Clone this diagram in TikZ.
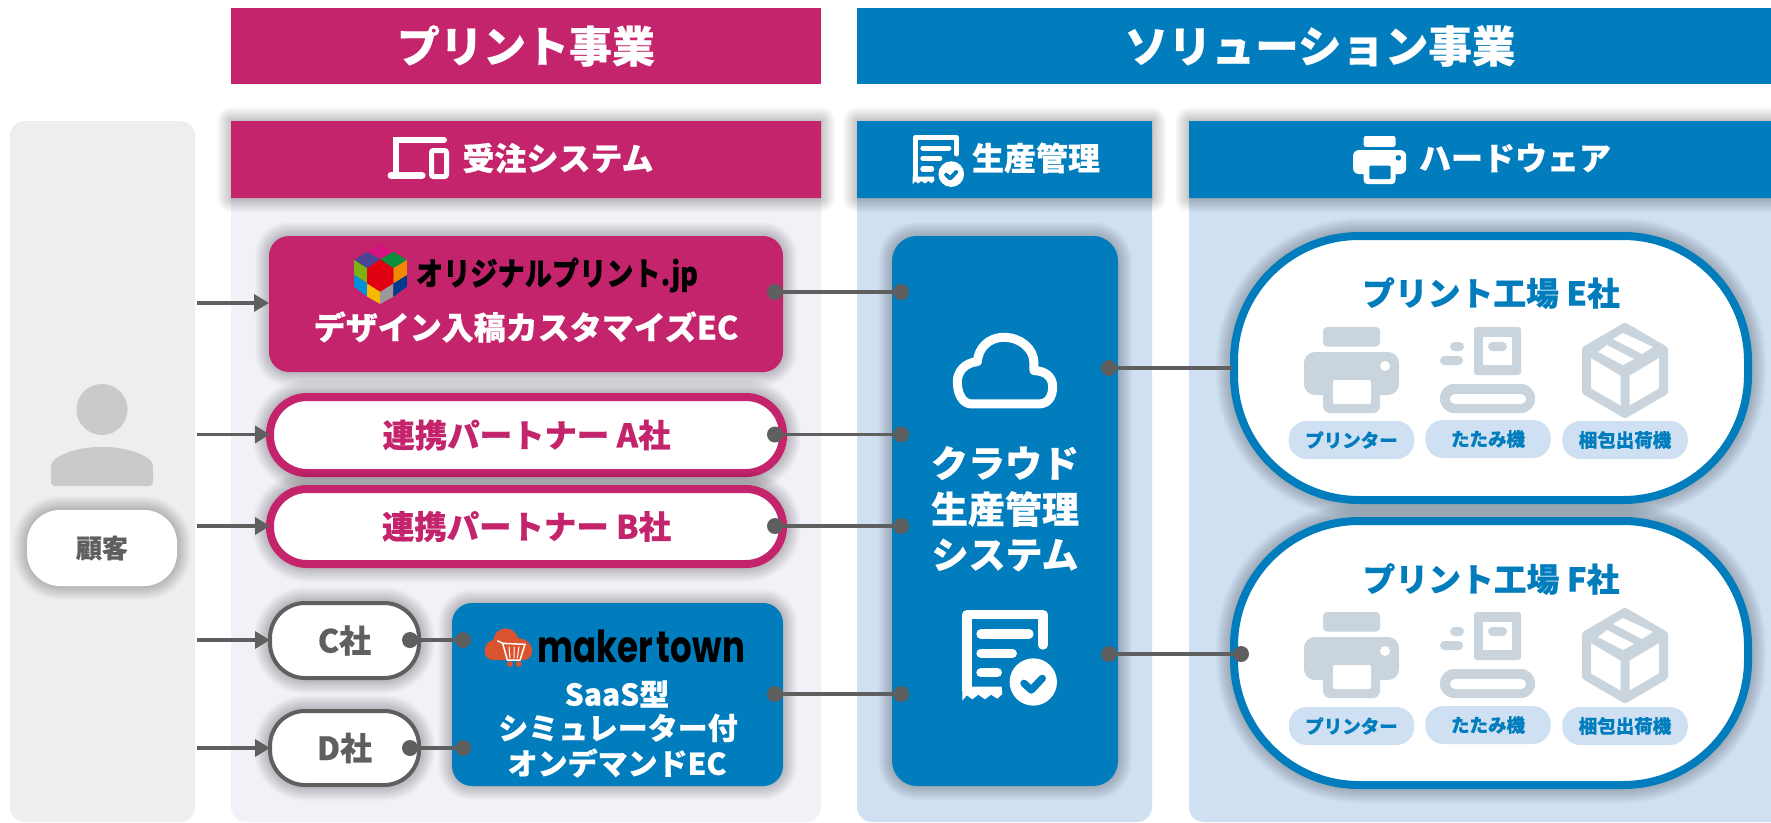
\documentclass[tikz,border=0pt]{standalone}
\usepackage{fontspec}
\usepackage{graphicx}
\newfontfamily\jp{Noto Sans CJK JP Black}[FakeBold=0.5]
\newfontfamily\mk{Poppins}
\usetikzlibrary{arrows.meta}
\definecolor{pinkc}{HTML}{C3246C}
\definecolor{bluec}{HTML}{017CBC}
\definecolor{panelp}{HTML}{F2F1F7}
\definecolor{panelb}{HTML}{CEE0F2}
\definecolor{panelg}{HTML}{EEEEEE}
\definecolor{linec}{HTML}{5F5F5F}
\definecolor{iconc}{HTML}{C9D4DC}
\definecolor{persc}{HTML}{CACACA}
\definecolor{cubem}{HTML}{D5127F}
\definecolor{cubep}{HTML}{4A4595}
\definecolor{cubeg}{HTML}{0A8F3C}
\definecolor{cubeo}{HTML}{7DB012}
\definecolor{cubec}{HTML}{0090DA}
\definecolor{cubey}{HTML}{F9B800}
\definecolor{cubea}{HTML}{999999}
\definecolor{cuben}{HTML}{003A8C}
\definecolor{cubeh}{HTML}{F08A00}
\definecolor{cuber}{HTML}{E0000F}
\definecolor{mkorange}{HTML}{D9532F}
\newcommand{\fs}[1]{\fontsize{#1}{#1}\selectfont}
\newcommand{\softshadow}[5]{%
  \foreach \k in {1,...,14}{%
    \fill[black,opacity=.017,rounded corners=#5pt+\k pt] ({#1-\k},{#2-\k}) rectangle ({#3+\k},{#4+\k});}}
\newcommand{\boxnode}[9]{% name x1 y1 x2 y2 r pad style text
  \pgfmathsetmacro{\bw}{#4-#2}\pgfmathsetmacro{\bh}{#5-#3}%
  \softshadow{#2-#7}{#3-#7}{#4+#7}{#5+#7}{#6+#7}%
  \node[#8,minimum width=\bw pt,minimum height=\bh pt,rounded corners=#6pt] (#1) at ({(#2+#4)/2},{(#3+#5)/2}) {#9};}
\newcommand{\printericon}[5]{% x y scale fg bg
  \begin{scope}[shift={(#1,#2)},scale=#3]
    \fill[#4,rounded corners=#3*4pt] (19,0) rectangle (76,19.5);
    \fill[#4,rounded corners=#3*11pt] (0,25) rectangle (95,68);
    \fill[#4,rounded corners=#3*7pt] (19,50) rectangle (76,86);
    \fill[#5,rounded corners=#3*2pt] (29,53) rectangle (67,77);
    \fill[#5] (81,39) circle (5);
  \end{scope}}
\newcommand{\folder}[2]{%
  \begin{scope}[shift={(#1,#2)}]
    \fill[iconc,rounded corners=3pt] (34,0) rectangle (81,48);
    \fill[white] (43,10) rectangle (72,38);
    \fill[iconc,rounded corners=4.5pt] (48,15) rectangle (67,24);
    \fill[iconc,rounded corners=4.5pt] (10,15) rectangle (24,24);
    \fill[iconc,rounded corners=4.5pt] (0,29) rectangle (23,38);
    \fill[iconc,rounded corners=14pt] (0,57) rectangle (95,86);
    \fill[white,rounded corners=5pt] (10,67) rectangle (86,77);
  \end{scope}}
\newcommand{\boxicon}[2]{%
  \begin{scope}[shift={(#1,#2)}]
    \fill[iconc] (43,4) -- (82,27) -- (43,50) -- (4,27) -- cycle;
    \draw[iconc,line width=9pt,line join=round] (43,4.5) -- (81.5,27) -- (81.5,68) -- (43,90.5) -- (4.5,68) -- (4.5,27) -- cycle;
    \draw[iconc,line width=9pt,line join=round] (4.5,27) -- (43,50) -- (81.5,27) (43,50) -- (43,90.5);
    \fill[white] (16,29) -- (25,22) -- (52,36) -- (41,42) -- cycle;
    \fill[white] (31,16) -- (41,10) -- (71,24) -- (60,31) -- cycle;
  \end{scope}}
\newcommand{\receipt}[3]{% x y scale
  \begin{scope}[shift={(#1,#2)},scale=#3]
    \draw[white,line width=#3*28pt,line cap=round,line join=round] (242,105) -- (242,14) -- (14,14) -- (14,240);
    \fill[white] (0,230) -- (0,272) -- (14,256) -- (30,268) -- (48,254) -- (68,268) -- (86,254) -- (105,266) -- (120,252) -- (118,230) -- cycle;
    \draw[white,line width=#3*28pt,line cap=round] (56,72) -- (200,72) (56,130) -- (150,130) (56,188) -- (105,188);
    \fill[bluec] (213,216) circle (80);
    \fill[white] (213,216) circle (71);
    \draw[bluec,line width=#3*22pt,line cap=round,line join=round] (185,220) -- (207,240) -- (240,205);
  \end{scope}}
\begin{document}
\begin{tikzpicture}[x=1pt,y=-1pt,
  every node/.style={inner sep=0pt,outer sep=0pt,font=\jp},
  solid box/.style={fill=#1,rectangle},
  ring box/.style={fill=white,draw=#1,line width=8pt,rectangle},
  thin ring/.style={fill=white,draw=linec,line width=4pt,rectangle},
  conn/.style={linec,line width=3.5pt},
  arr/.style={conn,-{Triangle[length=15pt,width=17pt]}},
  dotn/.style={circle,fill=linec,minimum size=16pt},
  wtxt/.style={text=white},
  tag/.style={fill=panelb,rectangle,rounded corners=18pt,text=bluec,minimum width=125.5pt,minimum height=38pt}]
\useasboundingbox (0,0) rectangle (1771,822);
\fill[white] (0,0) rectangle (1771,822);
% panels
\node[fill=panelg,rectangle,rounded corners=15pt,minimum width=185pt,minimum height=701pt] (pcust) at (102.5,471.5) {};
\node[fill=panelp,rectangle,rounded corners=15pt,minimum width=590pt,minimum height=701pt] (pprint) at (526,471.5) {};
\node[fill=panelb,rectangle,rounded corners=15pt,minimum width=295pt,minimum height=701pt] (pprod) at (1004.5,471.5) {};
\node[fill=panelb,rectangle,rounded corners=15pt,minimum width=600pt,minimum height=701pt] (phard) at (1489,471.5) {};
% top headers
\node[fill=pinkc,rectangle,minimum width=590pt,minimum height=76pt,text=white] (hprint) at (526,46) {\fs{43}プリント事業};
\node[fill=bluec,rectangle,minimum width=914pt,minimum height=76pt,text=white] (hsol) at (1314,46) {\hspace{12pt}\fs{43.5}ソリューション事業};
% sub headers
\boxnode{hord}{231}{121}{821}{198}{0.01}{0}{solid box=pinkc}{}
\boxnode{hpro}{857}{121}{1152}{198}{0.01}{0}{solid box=bluec}{}
\boxnode{hhw}{1189}{121}{1771}{198}{0.01}{0}{solid box=bluec}{}
\node[wtxt] (tord) at (558,158) {\fs{32}受注システム};
\node[wtxt] (tpro) at (1036,158) {\fs{32}生産管理};
\node[wtxt] (thw) at (1515,158) {\fs{32}ハードウェア};
% device icon
\draw[white,line width=6pt,line cap=round] (396,173) -- (396,140) -- (444,140);
\draw[white,line width=7pt,line cap=round] (391,175.5) -- (422,175.5);
\draw[white,line width=5pt,rounded corners=2pt] (431.5,150.5) rectangle (446.5,176.5);
\receipt{912.7}{135}{0.181}
\printericon{1353}{136}{0.56}{white}{bluec}
% customer
\fill[persc] (102,409.5) circle (25.5);
\fill[persc,rounded corners=4pt] (51,486) -- (51,470) .. controls (51,456) and (78,447) .. (102,447) .. controls (126,447) and (153,456) .. (153,470) -- (153,486) -- cycle;
\boxnode{cust}{27}{510}{177}{586}{33}{0}{solid box=white,text=linec}{\fs{26}顧客}
% EC box
\boxnode{orig}{269}{236}{783}{372}{20}{0}{solid box=pinkc}{}
\begin{scope}[shift={(0,100)},xscale=0.523,yscale=0.3333]
\fill[cubem] (727,432) -- (752,456) -- (727,478) -- (702,456) -- cycle;
\fill[cubep] (702,456) -- (727,478) -- (702,505) -- (677,480) -- cycle;
\fill[cubeg] (752,456) -- (778,480) -- (752,505) -- (727,478) -- cycle;
\fill[cubeo] (677,480) -- (702,505) -- (702,550) -- (677,525) -- cycle;
\fill[cubec] (677,525) -- (702,550) -- (702,590) -- (677,560) -- cycle;
\fill[cubey] (702,550) -- (727,575) -- (727,612) -- (702,590) -- cycle;
\fill[cubea] (727,575) -- (752,550) -- (752,590) -- (727,612) -- cycle;
\fill[cuben] (752,550) -- (778,525) -- (778,560) -- (752,590) -- cycle;
\fill[cubeh] (752,505) -- (778,480) -- (778,525) -- (752,550) -- cycle;
\fill[cuber] (727,478) -- (752,505) -- (752,550) -- (727,575) -- (702,550) -- (702,505) -- cycle;
\end{scope}
\node[text=black] (tlogo) at (557,275) {\resizebox{282pt}{\height}{\fs{32}オリジナルプリント.jp}};
\node[wtxt] (tec) at (526,327) {\fs{32}デザイン入稿カスタマイズEC};
% partners
\boxnode{pa}{270}{397}{783}{473}{37}{4}{ring box=pinkc,text=pinkc}{\fs{32.4}連携パートナー A社}
\boxnode{pb}{270}{489}{783}{564}{37}{4}{ring box=pinkc,text=pinkc}{\fs{32.4}連携パートナー B社}
\boxnode{pc}{270}{603}{419}{678}{35}{2}{thin ring,text=linec}{\fs{32}C社}
\boxnode{pd}{270}{711}{419}{785}{35}{2}{thin ring,text=linec}{\fs{32}D社}
% maker town
\boxnode{mt}{452}{603}{783}{786}{20}{0}{solid box=bluec}{}
\begin{scope}[shift={(460,610)},scale=0.3333]
\fill[mkorange] (100,150) .. controls (65,150) and (65,95) .. (100,90) .. controls (105,45) and (165,45) .. (175,85) .. controls (225,85) and (230,150) .. (190,150) -- cycle;
\draw[white,line width=1.5pt] (112,92) -- (128,100) -- (195,103) -- (180,150) -- (142,150) -- (128,100);
\draw[white,line width=1pt] (147,110) -- (150,145) (162,110) -- (162,145) (177,110) -- (172,145);
\fill[mkorange] (150,162) circle (9);
\fill[mkorange] (176,162) circle (9);
\end{scope}
\node[text=black,font=\mk\bfseries] (tmaker) at (641,646) {\resizebox{208pt}{\height}{\fs{44}maker\hspace{-4pt} town}};
\node[wtxt] (tsaas) at (617,694) {\fs{30}SaaS型};
\node[wtxt] (tsim) at (618,728) {\fs{30}シミュレーター付};
\node[wtxt] (tond) at (617,763) {\fs{30}オンデマンドEC};
% cloud box
\boxnode{cloud}{892}{236}{1118}{786}{25}{0}{solid box=bluec}{}
\begin{scope}[shift={(840,110)},scale=0.3333]
\draw[white,line width=9pt,line join=round] (395,882) -- (595,882) .. controls (625,882) and (638,860) .. (638,830) .. controls (638,800) and (615,782) .. (582,782) -- (582,760) .. controls (582,715) and (540,682) .. (492,682) .. controls (445,682) and (415,715) .. (412,755) .. controls (375,758) and (352,785) .. (352,815) .. controls (352,855) and (370,882) .. (395,882) -- cycle;
\end{scope}
\node[wtxt] (tc1) at (1005,463) {\fs{37}クラウド};
\node[wtxt] (tc2) at (1005,509) {\fs{37}生産管理};
\node[wtxt] (tc3) at (1005,555) {\fs{37}システム};
\receipt{962.3}{610}{0.3333}
% factories
\boxnode{fe}{1234}{236}{1748}{500}{125}{4}{ring box=bluec}{}
\boxnode{ff}{1234}{521}{1748}{785}{125}{4}{ring box=bluec}{}
\node[text=bluec] (te) at (1491,293) {\fs{32.8}プリント工場 E社};
\node[text=bluec] (tf) at (1491,579) {\fs{32.8}プリント工場 F社};
\printericon{1304}{327}{1}{iconc}{white}
\folder{1440}{327}
\boxicon{1582}{323}
\printericon{1304}{612}{1}{iconc}{white}
\folder{1440}{612}
\boxicon{1582}{608}
\node[tag] (e1) at (1351.5,440) {\fs{18.5}プリンター};
\node[tag] (e2) at (1488,439) {\fs{18.5}たたみ機};
\node[tag] (e3) at (1625,440) {\fs{18.5}梱包出荷機};
\node[tag] (f1) at (1351.5,726) {\fs{18.5}プリンター};
\node[tag] (f2) at (1488,725) {\fs{18.5}たたみ機};
\node[tag] (f3) at (1625,726) {\fs{18.5}梱包出荷機};
% arrows
\coordinate (s1) at (197,303);
\coordinate (s2) at (197,434.5);
\coordinate (s3) at (197,526);
\coordinate (s4) at (197,640);
\coordinate (s5) at (197,748);
\draw[arr] (s1) -- (s1 -| orig.west);
\draw[arr] (s2) -- (s2 -| pa.west);
\draw[arr] (s3) -- (s3 -| pb.west);
\draw[arr] (s4) -- (s4 -| pc.west);
\draw[arr] (s5) -- (s5 -| pd.west);
% dots
\node[dotn] (d1a) at (775,292) {};
\node[dotn] (d1b) at (901,292) {};
\node[dotn] (d2a) at (775,434.5) {};
\node[dotn] (d2b) at (901,434.5) {};
\node[dotn] (d3a) at (775,526) {};
\node[dotn] (d3b) at (901,526) {};
\node[dotn] (d4a) at (775,694) {};
\node[dotn] (d4b) at (901,694) {};
\node[dotn] (d5a) at (410,640) {};
\node[dotn] (d5b) at (463,640) {};
\node[dotn] (d6a) at (410,748) {};
\node[dotn] (d6b) at (463,748) {};
\node[dotn] (d7a) at (1109,368) {};
\coordinate (e7) at (1232,368);
\node[dotn] (d8a) at (1109,654) {};
\node[dotn] (d8b) at (1241,654) {};
\draw[conn] (d1a) -- (d1b);
\draw[conn] (d2a) -- (d2b);
\draw[conn] (d3a) -- (d3b);
\draw[conn] (d4a) -- (d4b);
\draw[conn] (d5a) -- (d5b);
\draw[conn] (d6a) -- (d6b);
\draw[conn] (d7a) -- (e7);
\draw[conn] (d8a) -- (d8b);
\end{tikzpicture}
\end{document}
